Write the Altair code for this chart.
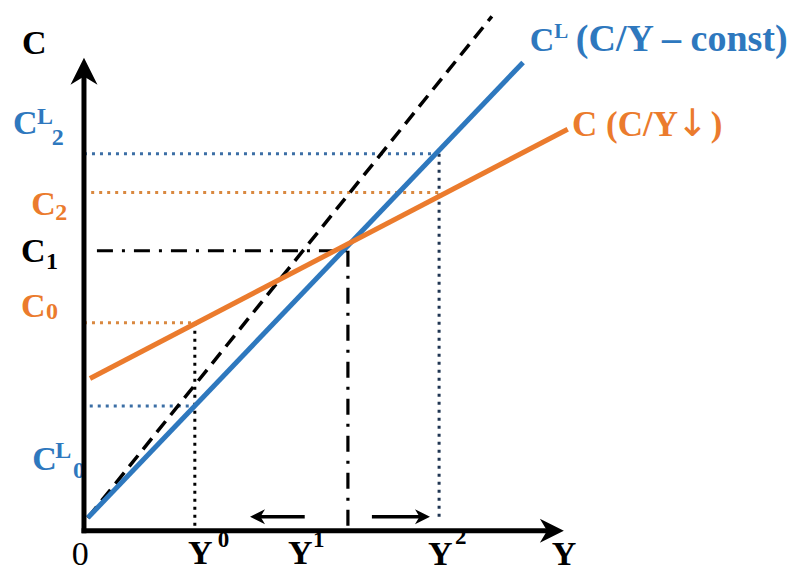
import altair as alt
import pandas as pd

# ---- diagram coordinate system (origin of the C–Y diagram at 0,0) ----
X_DOMAIN = [-1.75, 14.9]
Y_DOMAIN = [-0.9, 11.05]

# ---- colours ----
BLUE = "#2E78BE"
ORANGE = "#EB7B2D"
BLUE_DOT = "#3B6EA5"
ORANGE_DOT = "#D9883F"
NAVY_DOT = "#1F3552"
BLACK = "#000000"

# ---- income levels on the Y axis ----
Y0, Y1, Y2 = 2.31, 5.50, 7.40
# ---- consumption levels ----
C0, C1, C2 = 4.33, 5.83, 7.04
CL0, CL2 = 2.60, 7.85

# ---- consumption functions (end points) ----
cl_x = [0.08, 9.15]      # C^L, constant C/Y
cl_y = [0.27, 9.75]
c_x = [0.125, 10.08]     # C, falling C/Y
c_y = [3.17, 8.36]
ref_x = [0.08, 8.50]     # steeper dashed reference line
ref_y = [0.27, 10.71]

# ---- axes ----
x_axis_end = 10.0
y_axis_end = 9.85

# ---- shift arrows along the income axis ----
arrow_level = 0.29
left_arrow = [4.60, 3.46]    # tail, tip
right_arrow = [6.00, 7.21]   # tail, tip

SERIF = "Liberation Serif"


def X(f="x"):
    return alt.X(f"{f}:Q", scale=alt.Scale(domain=X_DOMAIN, nice=False, zero=False), axis=None)


def Yc(f="y"):
    return alt.Y(f"{f}:Q", scale=alt.Scale(domain=Y_DOMAIN, nice=False, zero=False), axis=None)


def X2(f="x2"):
    return alt.X2(f"{f}:Q")


def Y2c(f="y2"):
    return alt.Y2(f"{f}:Q")


# ---- guide lines ----
dotted = pd.DataFrame([
    dict(x=0.0, y=CL2, x2=Y2, y2=CL2, color=BLUE_DOT),
    dict(x=0.15, y=C2, x2=Y2, y2=C2, color=ORANGE_DOT),
    dict(x=Y2, y=CL2, x2=Y2, y2=0.27, color=NAVY_DOT),
    dict(x=0.0, y=C0, x2=Y0, y2=C0, color=ORANGE_DOT),
    dict(x=0.12, y=CL0, x2=Y0, y2=CL0, color=BLUE_DOT),
    dict(x=Y0, y=C0, x2=Y0, y2=0.0, color=BLACK),
])
dashdot = pd.DataFrame([
    dict(x=0.27, y=C1, x2=Y1, y2=C1),
    dict(x=Y1, y=C1, x2=Y1, y2=0.0),
])

dotted_layer = alt.Chart(dotted).mark_rule(strokeWidth=3, strokeDash=[3, 5]).encode(
    x=X(), y=Yc(), x2=X2(), y2=Y2c(), color=alt.Color("color:N", scale=None)
)
dashdot_layer = alt.Chart(dashdot).mark_rule(
    strokeWidth=3.2, strokeDash=[16, 9, 3, 9], color=BLACK
).encode(x=X(), y=Yc(), x2=X2(), y2=Y2c())

# ---- consumption lines ----
lines = pd.DataFrame({
    "x": ref_x + cl_x + c_x,
    "y": ref_y + cl_y + c_y,
    "series": ["ref"] * 2 + ["CL"] * 2 + ["C"] * 2,
})
ref_layer = alt.Chart(lines[lines.series == "ref"]).mark_line(
    color=BLACK, strokeWidth=3.5, strokeDash=[14, 8]
).encode(x=X(), y=Yc())
cl_layer = alt.Chart(lines[lines.series == "CL"]).mark_line(
    color=BLUE, strokeWidth=5
).encode(x=X(), y=Yc())
c_layer = alt.Chart(lines[lines.series == "C"]).mark_line(
    color=ORANGE, strokeWidth=5
).encode(x=X(), y=Yc())

# ---- axes with arrow heads ----
axes = pd.DataFrame([
    dict(x=0.0, y=-0.05, x2=0.0, y2=y_axis_end - 0.3),
    dict(x=-0.05, y=0.0, x2=x_axis_end - 0.3, y2=0.0),
])
axes_layer = alt.Chart(axes).mark_rule(strokeWidth=5, color=BLACK).encode(
    x=X(), y=Yc(), x2=X2(), y2=Y2c()
)
up_head = alt.Chart(pd.DataFrame([dict(x=0.0, y=y_axis_end)])).mark_point(
    shape="M0,0 L1,2 L0,1.4 L-1,2 Z", size=729, filled=True, color=BLACK, opacity=1
).encode(x=X(), y=Yc())
right_head = alt.Chart(pd.DataFrame([dict(x=x_axis_end, y=0.0)])).mark_point(
    shape="M0,0 L-2,-1 L-1.4,0 L-2,1 Z", size=576, filled=True, color=BLACK, opacity=1
).encode(x=X(), y=Yc())

# ---- shift arrows ----
shafts = pd.DataFrame([
    dict(x=left_arrow[0], x2=left_arrow[1] + 0.15, y=arrow_level),
    dict(x=right_arrow[0], x2=right_arrow[1] - 0.15, y=arrow_level),
])
shaft_layer = alt.Chart(shafts).mark_rule(strokeWidth=3.5, color=BLACK).encode(
    x=X(), x2=X2(), y=Yc()
)
left_tip = alt.Chart(pd.DataFrame([dict(x=left_arrow[1], y=arrow_level)])).mark_point(
    shape="M0,0 L2,-1 L1.4,0 L2,1 Z", size=225, filled=True, color=BLACK, opacity=1
).encode(x=X(), y=Yc())
right_tip = alt.Chart(pd.DataFrame([dict(x=right_arrow[1], y=arrow_level)])).mark_point(
    shape="M0,0 L-2,-1 L-1.4,0 L-2,1 Z", size=225, filled=True, color=BLACK, opacity=1
).encode(x=X(), y=Yc())

# ---- text labels ----
main_labels = pd.DataFrame([
    dict(text="C", x=-1.29, y=9.92, color=BLACK, size=34),
    dict(text="C", x=-1.48, y=8.25, color=BLUE, size=34),
    dict(text="C", x=-1.10, y=6.58, color=ORANGE, size=34),
    dict(text="C", x=-1.31, y=5.60, color=BLACK, size=34),
    dict(text="C", x=-1.31, y=4.46, color=ORANGE, size=34),
    dict(text="C", x=-1.08, y=1.27, color=BLUE, size=34),
    dict(text="Y", x=Y0 - 0.14, y=-0.69, color=BLACK, size=34),
    dict(text="Y", x=Y1 - 1.25, y=-0.69, color=BLACK, size=34),
    dict(text="Y", x=Y2 - 0.23, y=-0.72, color=BLACK, size=34),
    dict(text="Y", x=9.75, y=-0.72, color=BLACK, size=34),
    dict(text="C", x=9.29, y=9.98, color=BLUE, size=34),
    dict(text="(C/Y – const)", x=10.25, y=9.98, color=BLUE, size=38),
    dict(text="C (C/Y", x=10.17, y=8.21, color=ORANGE, size=35),
    dict(text=")", x=13.06, y=8.21, color=ORANGE, size=35),
])
small_labels = pd.DataFrame([
    dict(text="L", x=-0.98, y=8.46, color=BLUE, size=24),
    dict(text="2", x=-0.67, y=8.04, color=BLUE, size=24),
    dict(text="2", x=-0.60, y=6.48, color=ORANGE, size=24),
    dict(text="1", x=-0.79, y=5.44, color=BLACK, size=24),
    dict(text="0", x=-0.79, y=4.40, color=ORANGE, size=24),
    dict(text="L", x=-0.60, y=1.52, color=BLUE, size=24),
    dict(text="0", x=-0.23, y=1.10, color=BLUE, size=24),
    dict(text="0", x=Y0 + 0.48, y=-0.33, color=BLACK, size=23),
    dict(text="1", x=Y1 - 0.73, y=-0.33, color=BLACK, size=23),
    dict(text="2", x=Y2 + 0.33, y=-0.28, color=BLACK, size=23),
    dict(text="L", x=9.80, y=10.25, color=BLUE, size=21),
])
origin_label = pd.DataFrame([dict(text="0", x=-0.08, y=-0.72)])
down_arrow = pd.DataFrame([dict(text="↓", x=12.35, y=8.21)])

main_text = alt.Chart(main_labels).mark_text(
    align="left", baseline="alphabetic", font=SERIF, fontWeight="bold"
).encode(
    x=X(), y=Yc(), text="text:N",
    color=alt.Color("color:N", scale=None), size=alt.Size("size:Q", scale=None)
)
small_text = alt.Chart(small_labels).mark_text(
    align="left", baseline="alphabetic", font=SERIF, fontWeight="bold"
).encode(
    x=X(), y=Yc(), text="text:N",
    color=alt.Color("color:N", scale=None), size=alt.Size("size:Q", scale=None)
)
origin_text = alt.Chart(origin_label).mark_text(
    align="center", baseline="alphabetic", font=SERIF, fontSize=34, color=BLACK
).encode(x=X(), y=Yc(), text="text:N")
arrow_text = alt.Chart(down_arrow).mark_text(
    align="left", baseline="alphabetic", font="DejaVu Sans", fontSize=38, color=ORANGE
).encode(x=X(), y=Yc(), text="text:N")

chart = alt.layer(
    main_text, small_text, origin_text, arrow_text,
    dotted_layer, dashdot_layer,
    ref_layer, cl_layer, c_layer,
    axes_layer, up_head, right_head,
    shaft_layer, left_tip, right_tip,
).properties(
    width=799, height=574, padding=0, autosize=alt.AutoSizeParams(type="none"),
    background="white"
).configure_view(stroke="transparent")

chart.save("out.html", embed_options={"renderer": "svg", "actions": False})
